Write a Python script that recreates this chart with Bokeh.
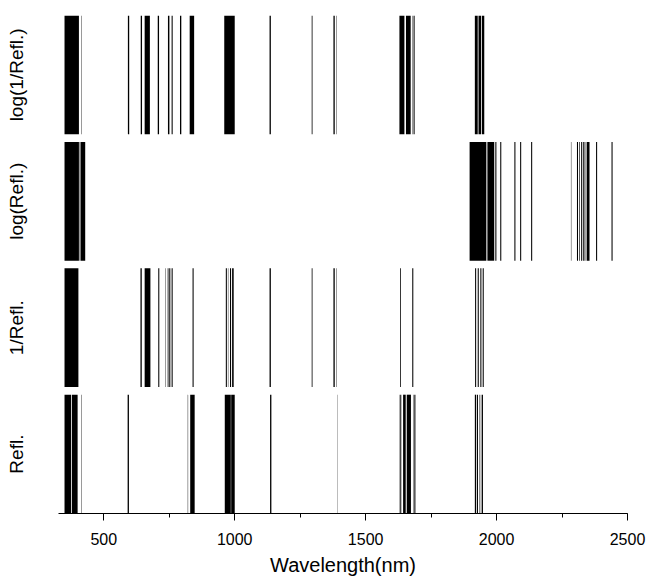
from bokeh.plotting import figure
from bokeh.models import ColumnDataSource, SingleIntervalTicker, FixedTicker, Range1d
from bokeh.embed import file_html
from bokeh.resources import INLINE

# Selected wavelength intervals (nm) for each transformation
row_labels = ["Refl.", "1/Refl.", "log(Refl.)", "log(1/Refl.)"]

refl_start = [350, 378, 413, 591, 820.5, 830, 962, 986.5, 1135, 1391.5, 1630, 1637, 1643, 1657, 1681, 1686, 1917, 1925, 1935, 1943]
refl_end   = [375, 400, 414.5, 596, 822, 847, 985, 1000, 1140, 1392.5, 1634, 1638, 1653, 1673, 1682.5, 1690, 1922, 1929, 1937.5, 1948]

inv_start = [350, 640, 656, 708, 736, 744, 750, 759, 839, 966, 974, 982, 990, 1133, 1294, 1377, 1389, 1632, 1678, 1918, 1928, 1938, 1947]
inv_end   = [403, 645, 678, 712, 737.5, 747, 754, 763, 843, 970, 975.5, 986, 996, 1138, 1297, 1382, 1390.5, 1635, 1682, 1922, 1932, 1942, 1951]

log_start = [350, 407.5, 411, 1897, 1962, 1965, 1994, 1999.5, 2014, 2068, 2090, 2132, 2284, 2307, 2316, 2323, 2330, 2336, 2344, 2380, 2439]
log_end   = [405, 409, 429, 1960, 1963, 1991, 1996.5, 2001, 2018, 2072, 2094, 2136, 2285.5, 2311, 2318.5, 2327, 2333, 2339, 2355, 2384, 2443]

loginv_start = [350, 413, 592, 641, 656, 706, 745, 751, 759, 791, 828, 960, 1133, 1294, 1377, 1389, 1629, 1654, 1679, 1683, 1917, 1931, 1944]
loginv_end   = [405, 414.5, 597, 646, 676, 711, 749, 752.5, 763, 796, 845, 1000, 1138, 1297, 1382, 1390.5, 1648, 1672, 1680.5, 1687, 1928, 1941, 1953]

x_ticks_interval = 500

starts = [refl_start, inv_start, log_start, loginv_start]
ends = [refl_end, inv_end, log_end, loginv_end]

left, right, bottom, top = [], [], [], []
for i, (s, e) in enumerate(zip(starts, ends)):
    for a, b in zip(s, e):
        left.append(a)
        right.append(b)
        bottom.append(i)
        top.append(i + 0.94)

src = ColumnDataSource(dict(left=left, right=right, bottom=bottom, top=top))

p = figure(width=648, height=578, output_backend="svg", toolbar_location=None,
           x_range=Range1d(327, 2500), y_range=Range1d(0, 3.94),
           min_border_left=58, min_border_right=21, min_border_top=15, min_border_bottom=60)
p.quad(left="left", right="right", bottom="bottom", top="top", source=src,
       fill_color="black", line_color=None)

p.outline_line_color = None
p.xgrid.visible = False
p.ygrid.visible = False
p.background_fill_color = "white"
p.border_fill_color = "white"

font = "Liberation Sans"
xa = p.xaxis[0]
xa.ticker = SingleIntervalTicker(interval=x_ticks_interval, num_minor_ticks=2)
xa.major_tick_in = 0
xa.major_tick_out = 7
xa.minor_tick_in = 0
xa.minor_tick_out = 4
xa.axis_line_color = "black"
xa.major_tick_line_color = "black"
xa.minor_tick_line_color = "black"
xa.major_label_text_font = font
xa.major_label_text_font_size = "16px"
xa.major_label_text_color = "black"
xa.major_label_standoff = 12
xa.axis_label = "Wavelength(nm)"
xa.axis_label_text_font = font
xa.axis_label_text_font_size = "20px"
xa.axis_label_text_font_style = "normal"
xa.axis_label_text_color = "black"
xa.axis_label_standoff = 6

ya = p.yaxis[0]
centers = [i + 0.47 for i in range(len(row_labels))]
ya.ticker = FixedTicker(ticks=centers)
ya.major_label_overrides = {c: lab for c, lab in zip(centers, row_labels)}
ya.major_label_orientation = "vertical"
ya.axis_line_color = None
ya.major_tick_line_color = None
ya.minor_tick_line_color = None
ya.major_label_text_font = font
ya.major_label_text_font_size = "19px"
ya.major_label_text_color = "black"
ya.major_label_standoff = 25

open("out.html", "w").write(file_html(p, INLINE))
